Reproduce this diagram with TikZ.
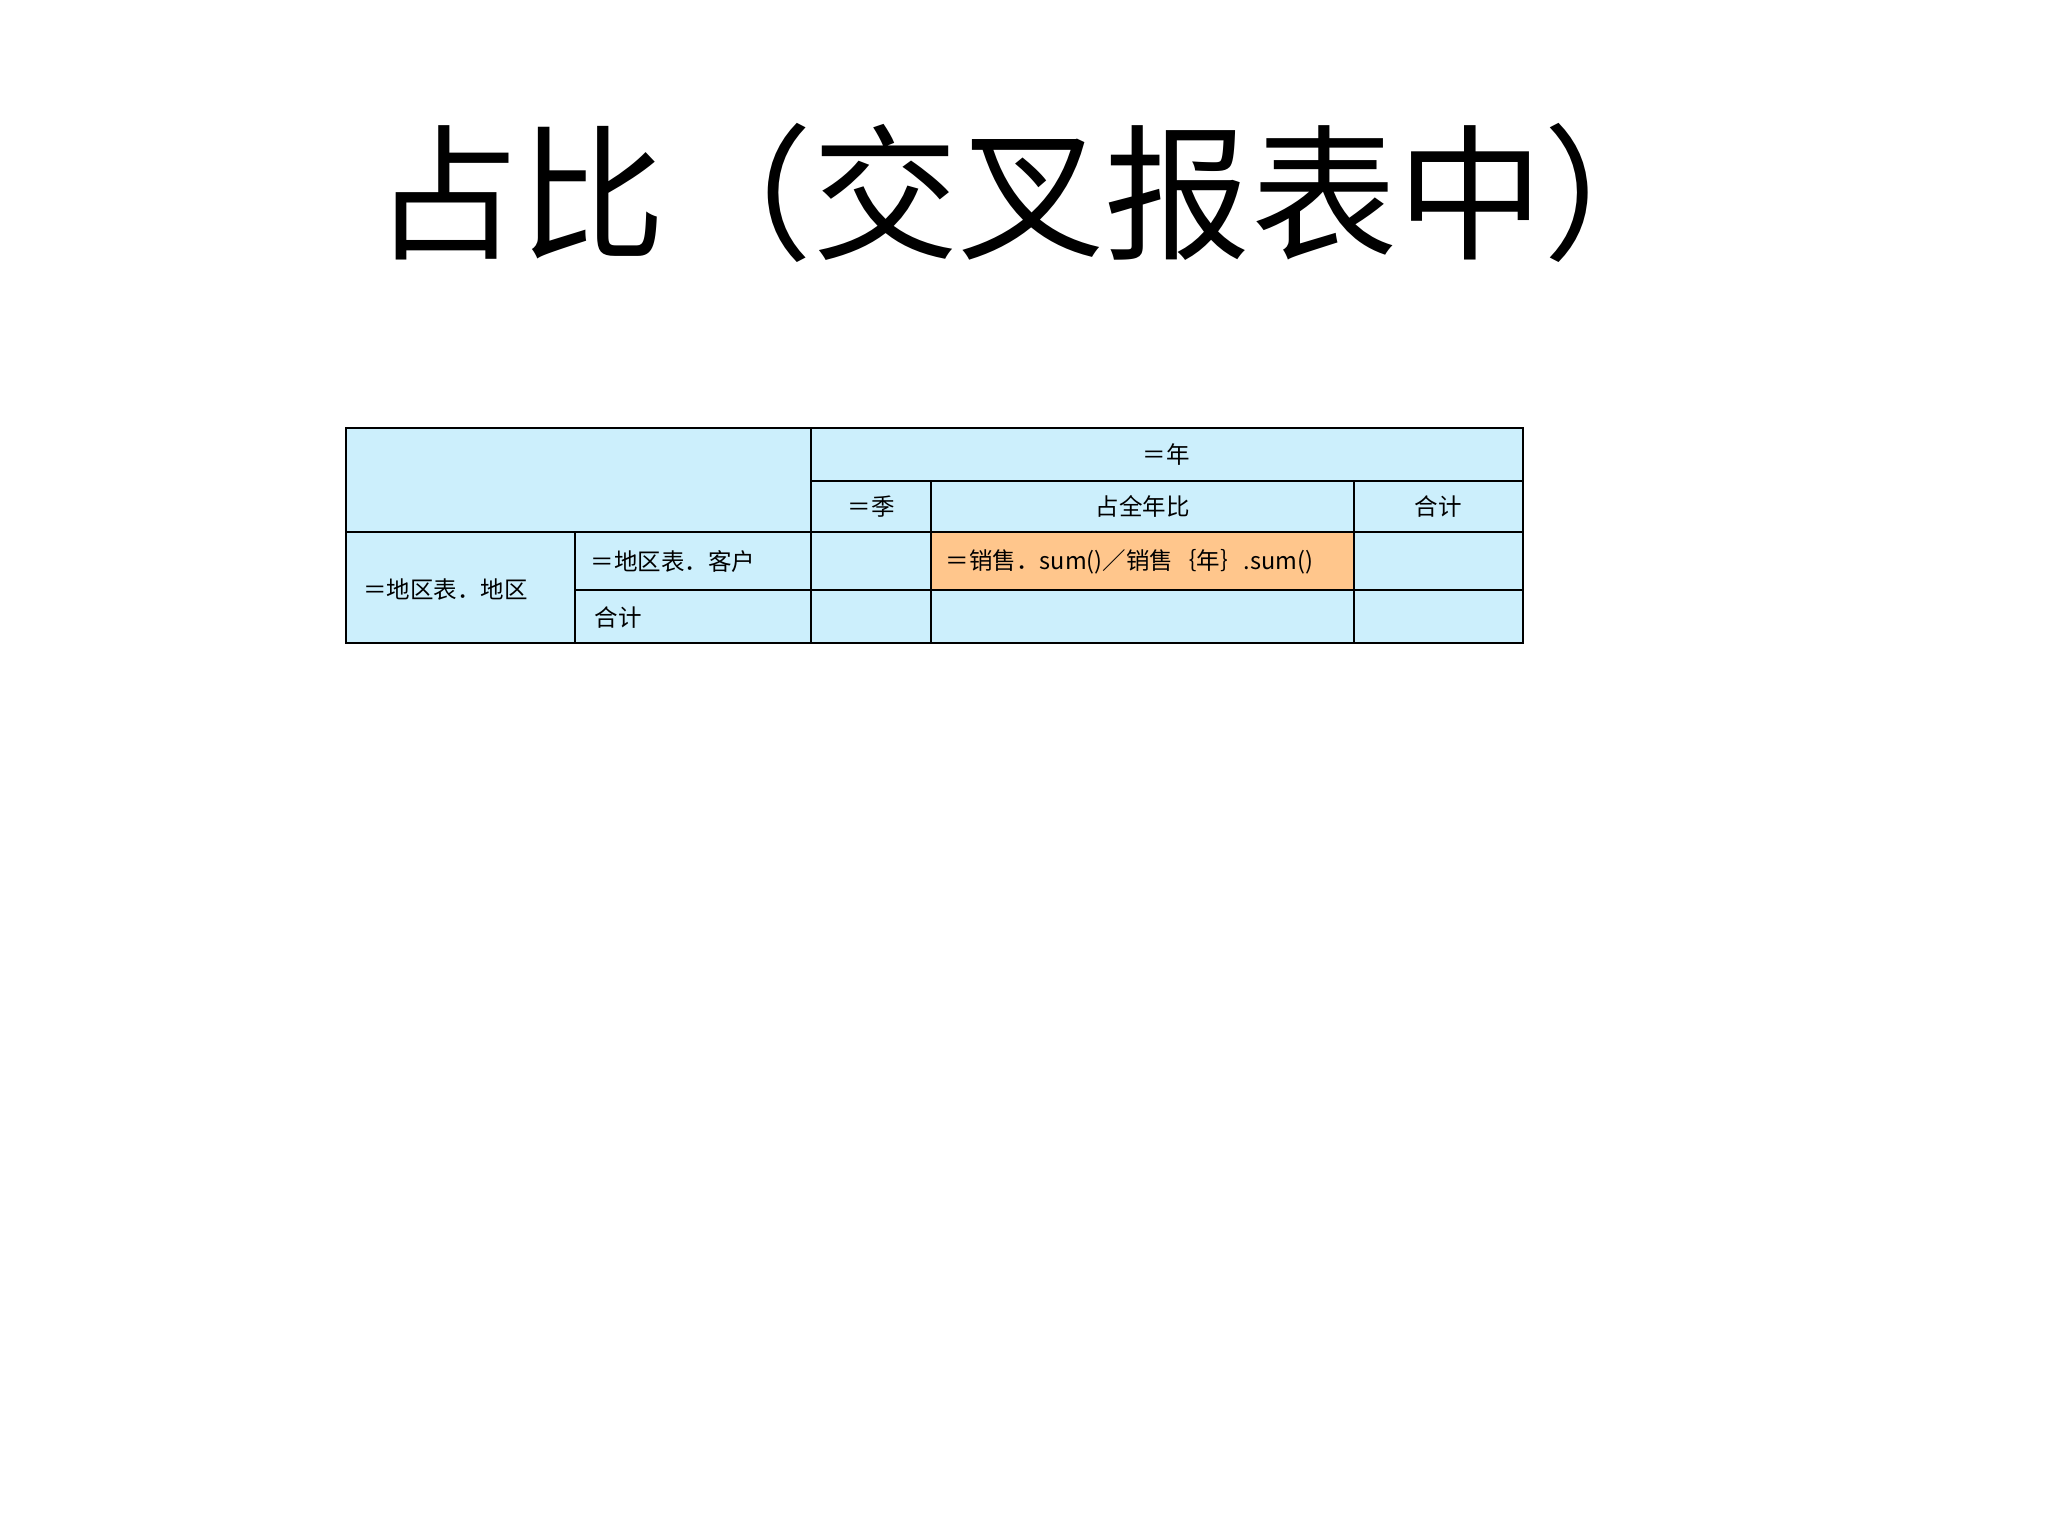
\documentclass[tikz,border=0pt]{standalone}
\usepackage{fontspec}
\newfontfamily\cjk{Noto Sans CJK SC}
\begin{document}
\begin{tikzpicture}[x=1pt,y=-1pt,
  cell/.style={draw=black,line width=1.5pt,fill=cyan!20},
  txt/.style={font=\cjk\fontsize{18}{20}\selectfont,inner sep=0pt}]
\useasboundingbox (0,0) rectangle (1568,1176);
\node[font=\cjk\fontsize{112}{120}\selectfont] (title) at (790,148) {占比（交叉报表中）};
\fill[cyan!20] (265,328) rectangle (1166,492);
\fill[orange!45] (713,407) rectangle (1037,452);
\draw[line width=1.5pt] (265,328) rectangle (1166,492);
\draw[line width=1.5pt] (621,328)--(621,492) (621,368)--(1166,368)
  (713,368)--(713,492) (1037,368)--(1037,492) (265,407)--(1166,407)
  (440,407)--(440,492) (440,452)--(1166,452);
\node[txt] (yr) at (893,348) {＝年};
\node[txt] (q) at (667,388) {＝季};
\node[txt] (pct) at (875,388) {占全年比};
\node[txt] (tot) at (1101,388) {合计};
\node[txt,anchor=west] (reg) at (278,451) {＝地区表．地区};
\node[txt,anchor=west] (cust) at (452,430) {＝地区表．客户};
\node[txt,anchor=west] (tot2) at (455,473) {合计};
\node[txt,anchor=west] (f) at (724,430) {＝销售．sum()／销售｛年｝.sum()};
\end{tikzpicture}
\end{document}
